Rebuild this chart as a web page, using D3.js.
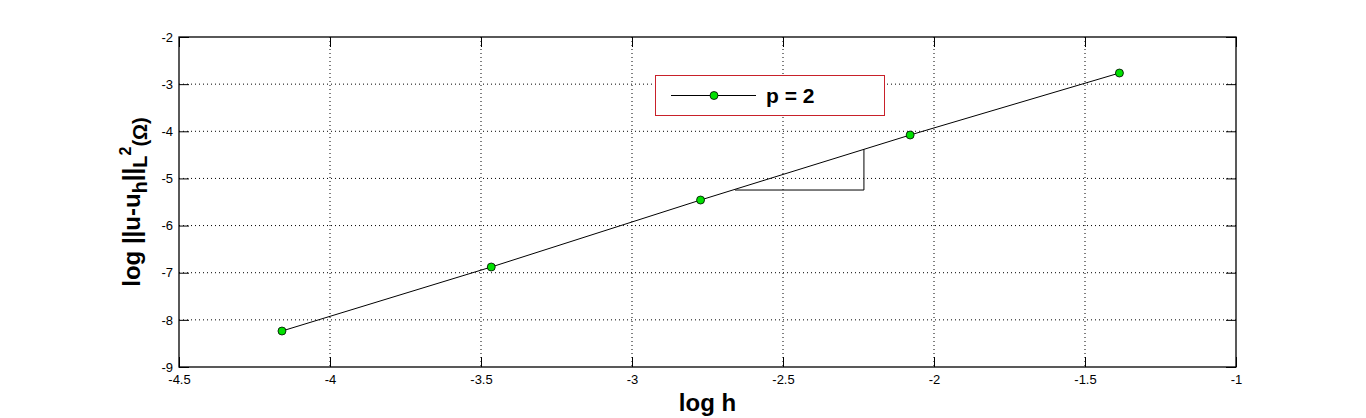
<!DOCTYPE html>
<html><head><meta charset="utf-8">
<script src="https://cdn.jsdelivr.net/npm/d3@7"></script>
<style>body{margin:0;background:#fff}svg{display:block}text{font-family:"Liberation Sans",Arial,sans-serif}</style>
</head><body><svg id="c" width="1366" height="418"></svg>
<script>
const logH = [-4.159, -3.466, -2.773, -2.079, -1.386];
const logErr = [-8.237, -6.879, -5.458, -4.079, -2.764];
const seriesName = "p = 2";
const xTicks = [-4.5, -4, -3.5, -3, -2.5, -2, -1.5, -1];
const yTicks = [-9, -8, -7, -6, -5, -4, -3, -2];
const triX = [-2.659, -2.232];
const triY = [-5.246, -4.382];

const svg = d3.select("#c");
const L = 179, R = 1236, T = 37, B = 367;
const x = d3.scaleLinear().domain([-4.5, -1]).range([L, R]);
const y = d3.scaleLinear().domain([-9, -2]).range([B, T]);

// grid
const g = svg.append("g");
g.selectAll(".gx").data(xTicks.slice(1, -1)).enter().append("line")
  .attr("x1", d => x(d)).attr("x2", d => x(d)).attr("y1", T).attr("y2", B)
  .attr("stroke", "#000").attr("stroke-width", 1).attr("stroke-dasharray", "1,3");
g.selectAll(".gy").data(yTicks.slice(1, -1)).enter().append("line")
  .attr("y1", d => y(d)).attr("y2", d => y(d)).attr("x1", L).attr("x2", R)
  .attr("stroke", "#000").attr("stroke-width", 1).attr("stroke-dasharray", "1,3");

// axes with inner ticks
const tk = 10;
svg.append("g").attr("transform", `translate(0,${B})`)
  .call(d3.axisBottom(x).tickValues(xTicks).tickSizeInner(-tk).tickSizeOuter(0).tickPadding(8).tickFormat(d => String(d)))
  .call(s => { s.select(".domain").remove(); s.selectAll("text").attr("font-size", 13).attr("font-family", "Liberation Sans, Arial"); });
svg.append("g").attr("transform", `translate(0,${T})`)
  .call(d3.axisTop(x).tickValues(xTicks).tickSizeInner(-tk).tickSizeOuter(0).tickFormat(""))
  .call(s => s.select(".domain").remove());
svg.append("g").attr("transform", `translate(${L},0)`)
  .call(d3.axisLeft(y).tickValues(yTicks).tickSizeInner(-tk).tickSizeOuter(0).tickPadding(6).tickFormat(d => String(d)))
  .call(s => { s.select(".domain").remove(); s.selectAll("text").attr("font-size", 13).attr("font-family", "Liberation Sans, Arial"); });
svg.append("g").attr("transform", `translate(${R},0)`)
  .call(d3.axisRight(y).tickValues(yTicks).tickSizeInner(-tk).tickSizeOuter(0).tickFormat(""))
  .call(s => s.select(".domain").remove());

svg.append("rect").attr("x", L).attr("y", T).attr("width", R - L).attr("height", B - T)
  .attr("fill", "none").attr("stroke", "#000").attr("stroke-width", 1.3);

// triangle
svg.append("path")
  .attr("d", `M${x(triX[0])},${y(triY[0])}H${x(triX[1])}V${y(triY[1])}`)
  .attr("fill", "none").attr("stroke", "#000").attr("stroke-width", 1);

// line
const pts = logH.map((d, i) => [d, logErr[i]]);
svg.append("path").datum(pts)
  .attr("d", d3.line().x(d => x(d[0])).y(d => y(d[1])))
  .attr("fill", "none").attr("stroke", "#000").attr("stroke-width", 1);
svg.selectAll(".pt").data(pts).enter().append("circle")
  .attr("cx", d => x(d[0])).attr("cy", d => y(d[1])).attr("r", 4)
  .attr("fill", "#00e000").attr("stroke", "#000").attr("stroke-width", 0.8);

// legend
const lg = svg.append("g");
lg.append("rect").attr("x", 655.5).attr("y", 75.5).attr("width", 229).attr("height", 40)
  .attr("fill", "#fff").attr("stroke", "#c8212a").attr("stroke-width", 1);
lg.append("line").attr("x1", 671).attr("x2", 756).attr("y1", 95.5).attr("y2", 95.5).attr("stroke", "#000");
lg.append("circle").attr("cx", 714).attr("cy", 95.5).attr("r", 4).attr("fill", "#00e000").attr("stroke", "#000").attr("stroke-width", 0.8);
lg.append("text").attr("x", 766).attr("y", 103).attr("font-size", 21).attr("font-weight", "bold").text(seriesName);

// labels
svg.append("text").attr("x", (L + R) / 2).attr("y", 411).attr("text-anchor", "middle")
  .attr("font-size", 24).attr("font-weight", "bold").text("log h");
const yl = svg.append("text").attr("transform", `translate(140,${(T + B) / 2}) rotate(-90)`)
  .attr("text-anchor", "middle").attr("font-size", 24).attr("font-weight", "bold");
yl.append("tspan").text("log ||u-u");
yl.append("tspan").attr("dy", 7).attr("font-size", 20).text("h");
yl.append("tspan").attr("dy", -7).text("||");
yl.append("tspan").attr("dy", 7).attr("font-size", 20).text("L");
yl.append("tspan").attr("dy", -16).attr("font-size", 16).text("2");
yl.append("tspan").attr("dy", 16).attr("font-size", 20).text("(Ω)");
</script></body></html>
